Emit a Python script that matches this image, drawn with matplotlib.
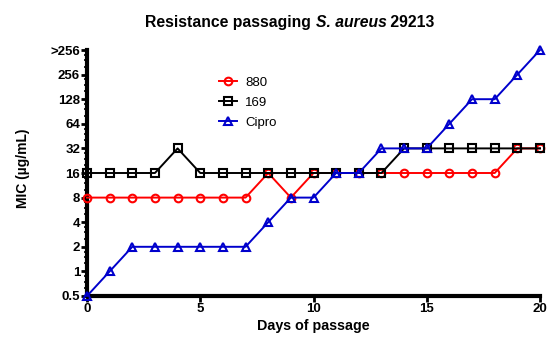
import numpy as np
import matplotlib
matplotlib.use("Agg")
import matplotlib.pyplot as plt
from matplotlib.ticker import FixedLocator, NullFormatter

plt.rcParams["font.family"] = ["Liberation Sans", "DejaVu Sans"]

# --- data ---
days = list(range(21))
mic_880 = [8, 8, 8, 8, 8, 8, 8, 8, 16, 8, 16, 16, 16, 16, 16, 16, 16, 16, 16, 32, 32]
mic_169 = [16, 16, 16, 16, 32, 16, 16, 16, 16, 16, 16, 16, 16, 16, 32, 32, 32, 32, 32, 32, 32]
mic_cipro = [0.5, 1, 2, 2, 2, 2, 2, 2, 4, 8, 8, 16, 16, 32, 32, 32, 64, 128, 128, 256, 512]

ytick_vals = [0.5, 1, 2, 4, 8, 16, 32, 64, 128, 256, 512]
ytick_labels = ["0.5", "1", "2", "4", "8", "16", "32", "64", "128", "256", ">256"]

fig = plt.figure(figsize=(5.57, 3.51), dpi=100)
ax = fig.add_axes([87/557, 1 - 296/351, 453/557, 246/351])

series = [
    ("880", mic_880, "#ff0000", "o"),
    ("169", mic_169, "#000000", "s"),
    ("Cipro", mic_cipro, "#0000cc", "^"),
]
for name, vals, col, mk in series:
    ax.plot(days, vals, color=col, marker=mk, markersize=5.5, markerfacecolor="none",
            markeredgewidth=1.5, linewidth=1.4, label=name, clip_on=False, zorder=3)

ax.set_yscale("log", base=2)
ax.set_ylim(0.5, 512)
ax.set_xlim(0, 20)
ax.yaxis.set_major_locator(FixedLocator(ytick_vals))
ax.set_yticklabels(ytick_labels)
minor = []
for v in ytick_vals[:-1]:
    minor += [v * s for s in (1.25, 1.5, 1.75)]
ax.yaxis.set_minor_locator(FixedLocator(minor))
ax.yaxis.set_minor_formatter(NullFormatter())
ax.set_xticks([0, 5, 10, 15, 20])

for side in ["top", "right"]:
    ax.spines[side].set_visible(False)
for side in ["left", "bottom"]:
    ax.spines[side].set_linewidth(3)

ax.tick_params(axis="both", which="major", length=4, width=2, labelsize=9.5, pad=1)
ax.tick_params(axis="y", which="minor", length=2.5, width=1.2)
for lab in ax.get_xticklabels() + ax.get_yticklabels():
    lab.set_fontweight("bold")

ax.set_xlabel("Days of passage", fontsize=10.3, fontweight="bold", labelpad=3)
ax.set_ylabel("MIC (µg/mL)", fontsize=10, fontweight="bold")
ax.yaxis.set_label_coords(-0.125, 0.52)

# title in three pieces so the species name is bold italic
parts = [("Resistance passaging ", "normal"), ("S. aureus", "italic"), (" 29213", "normal")]
renderer = fig.canvas.get_renderer()
texts = []
for s, style in parts:
    t = fig.text(0, 0.935, s, fontsize=11.3, fontweight="bold", fontstyle=style,
                 ha="left", va="center")
    texts.append(t)
widths = [t.get_window_extent(renderer).width for t in texts]
x = 290 - sum(widths) / 2
for t, w in zip(texts, widths):
    t.set_x(x / 557)
    x += w

ax.legend(loc="upper left", bbox_to_anchor=(0.27, 0.93), frameon=False, fontsize=9.5,
          handlelength=1.4, handletextpad=0.6, labelspacing=0.6, borderpad=0.2)

fig.savefig("out.png", dpi=100)
